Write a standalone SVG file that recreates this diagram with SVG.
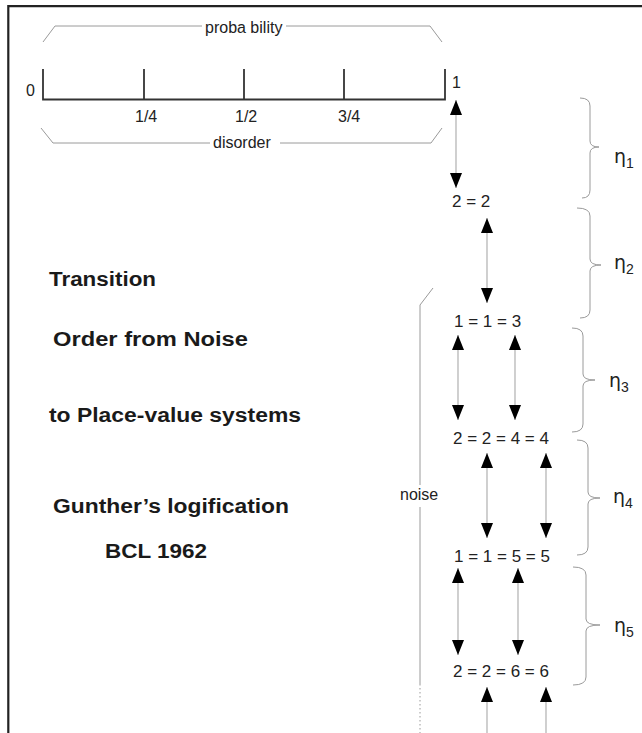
<svg xmlns="http://www.w3.org/2000/svg" width="642" height="733" viewBox="0 0 642 733">
<style>
.frame{stroke:#222;stroke-width:2.2;fill:none}
.brk{stroke:#9a9a9a;stroke-width:1;fill:none}
.axis{stroke:#333;stroke-width:1.8;fill:none}
.conn{stroke:#b0b0b0;stroke-width:1.2;fill:none}
.lbl{font-family:"Liberation Sans",Arial,sans-serif;font-size:16px;fill:#222}
.eq{font-family:"Liberation Sans",Arial,sans-serif;font-size:17px;fill:#222}
.bold{font-family:"Liberation Sans",Arial,sans-serif;font-size:19.5px;font-weight:bold;fill:#1a1a1a}
.eta{font-family:"DejaVu Sans","Liberation Sans",sans-serif;font-size:19px;fill:#222}
.sub{font-family:"Liberation Sans",Arial,sans-serif;font-size:14px}
</style>
<defs>
<marker id="ah" viewBox="0 0 15 12" markerUnits="userSpaceOnUse" markerWidth="15" markerHeight="12" refX="15" refY="6" orient="auto-start-reverse">
<path d="M0,0 L15,6 L0,12 z" fill="#000"/>
</marker>
</defs>
<rect width="642" height="733" fill="#fff"/>
<path class="frame" d="M8.3,733 V6.2 H642"/>

<g id="scale">
<path class="brk" d="M43,42 L55,26 H202 M286,26 H430 L442,42"/>
<text class="lbl" x="205" y="33">proba bility</text>
<path class="axis" d="M43,69 V99.5 H445 V69 M144,69 V99.5 M244,69 V99.5 M344,69 V99.5"/>
<text class="lbl" x="26" y="96">0</text>
<text class="lbl" x="452" y="88">1</text>
<text class="lbl" x="135" y="122">1/4</text>
<text class="lbl" x="235" y="122">1/2</text>
<text class="lbl" x="338" y="122">3/4</text>
<path class="brk" d="M41,128 L53,143 H210 M280,143 H431 L442,128"/>
<text class="lbl" x="213" y="148">disorder</text>
</g>

<g id="noise">
<path class="brk" d="M433,288 L420,305 V485 M420,507 V684"/>
<path class="brk" d="M420,684 V733" stroke-dasharray="1.5,2.5"/>
<text class="lbl" x="400" y="500">noise</text>
</g>

<g id="connectors">
<path class="conn" marker-start="url(#ah)" marker-end="url(#ah)" d="M456,100 V188"/>
<path class="conn" marker-start="url(#ah)" marker-end="url(#ah)" d="M487,218 V303"/>
<path class="conn" marker-start="url(#ah)" marker-end="url(#ah)" d="M458,335 V420"/>
<path class="conn" marker-start="url(#ah)" marker-end="url(#ah)" d="M515,335 V420"/>
<path class="conn" marker-start="url(#ah)" marker-end="url(#ah)" d="M487,453 V538"/>
<path class="conn" marker-start="url(#ah)" marker-end="url(#ah)" d="M546,453 V538"/>
<path class="conn" marker-start="url(#ah)" marker-end="url(#ah)" d="M458,568 V655"/>
<path class="conn" marker-start="url(#ah)" marker-end="url(#ah)" d="M518,568 V655"/>
<path class="conn" marker-start="url(#ah)" d="M487,687 V733"/>
<path class="conn" marker-start="url(#ah)" d="M546,687 V733"/>
</g>

<g id="eq1"><text class="eq" x="452" y="207">2 = 2</text></g>
<g id="eq2"><text class="eq" x="454" y="327">1 = 1 = 3</text></g>
<g id="eq3"><text class="eq" x="453" y="444">2 = 2 = 4 = 4</text></g>
<g id="eq4"><text class="eq" x="454" y="562">1 = 1 = 5 = 5</text></g>
<g id="eq5"><text class="eq" x="453" y="677">2 = 2 = 6 = 6</text></g>

<g id="eta1">
<path class="brk" d="M580,98 Q590,98 590,106 V141 Q590,147 599,147 Q590,147 590,153 V190 Q590,198 582,198"/>
<text class="eta" x="614" y="163">η<tspan class="sub" dy="5">1</tspan></text>
</g>
<g id="eta2">
<path class="brk" d="M577,208 Q590,208 590,216 V259 Q590,265 601,265 Q590,265 590,271 V310 Q590,318 580,318"/>
<text class="eta" x="614" y="269">η<tspan class="sub" dy="5">2</tspan></text>
</g>
<g id="eta3">
<path class="brk" d="M572,328 Q583,328 583,336 V374 Q583,380 595,380 Q583,380 583,386 V424 Q583,432 572,432"/>
<text class="eta" x="609" y="387">η<tspan class="sub" dy="5">3</tspan></text>
</g>
<g id="eta4">
<path class="brk" d="M577,440 Q588,440 588,448 V492 Q588,498 600,498 Q588,498 588,504 V547 Q588,555 577,555"/>
<text class="eta" x="613" y="503">η<tspan class="sub" dy="5">4</tspan></text>
</g>
<g id="eta5">
<path class="brk" d="M573,567 Q586,567 586,575 V619 Q586,625 600,625 Q586,625 586,631 V677 Q586,685 573,685"/>
<text class="eta" x="614" y="632">η<tspan class="sub" dy="5">5</tspan></text>
</g>

<g id="title">
<text class="bold" x="49" y="286" textLength="107" lengthAdjust="spacingAndGlyphs">Transition</text>
<text class="bold" x="53" y="346" textLength="195" lengthAdjust="spacingAndGlyphs">Order from Noise</text>
<text class="bold" x="49" y="422" textLength="252" lengthAdjust="spacingAndGlyphs">to Place-value systems</text>
<text class="bold" x="53" y="513" textLength="236" lengthAdjust="spacingAndGlyphs">Gunther’s logification</text>
<text class="bold" x="105" y="558" textLength="102" lengthAdjust="spacingAndGlyphs">BCL 1962</text>
</g>
</svg>
